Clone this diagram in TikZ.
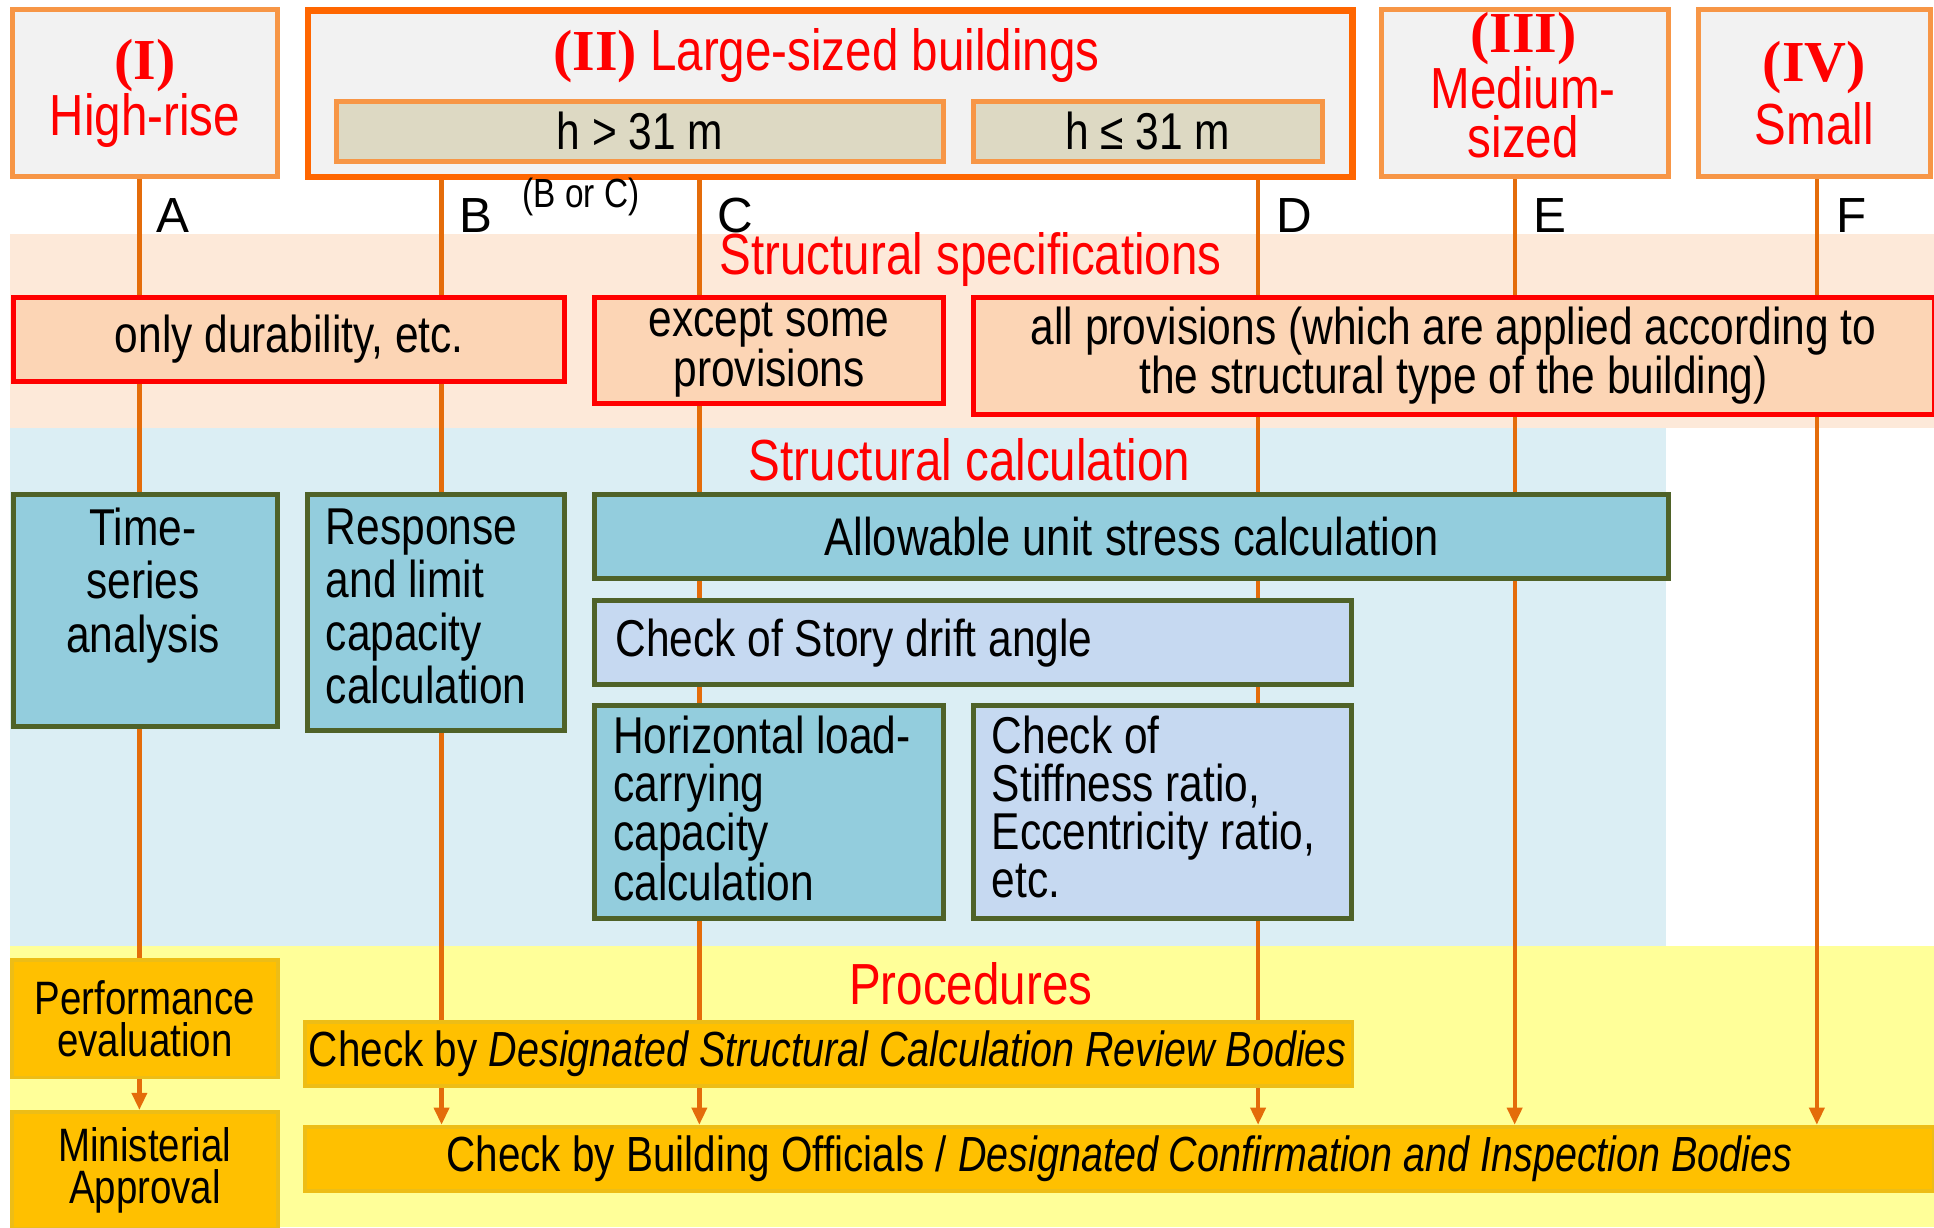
\documentclass[tikz,border=0pt]{standalone}
\usepackage{fontspec}
\setmainfont[FakeStretch=0.82, ItalicFeatures={FakeStretch=0.80}]{Liberation Sans}
\newfontfamily\romfont{Liberation Serif}
\newfontfamily\widefont{Liberation Sans}
\usetikzlibrary{arrows.meta,backgrounds}

\definecolor{catgray}{HTML}{F2F2F2}
\definecolor{lightorange}{HTML}{F79646}
\definecolor{darkorange}{HTML}{FF6600}
\definecolor{linkorange}{HTML}{E46C0A}
\definecolor{tan}{HTML}{DDD9C3}
\definecolor{specbg}{HTML}{FDE9D9}
\definecolor{specfill}{HTML}{FCD5B5}
\definecolor{calcbg}{HTML}{DBEEF4}
\definecolor{calcfill}{HTML}{93CDDD}
\definecolor{lavender}{HTML}{C6D9F1}
\definecolor{olive}{HTML}{4F6228}
\definecolor{procbg}{HTML}{FFFF99}
\definecolor{procfill}{HTML}{FFC000}
\definecolor{procline}{HTML}{EDBD16}

\tikzset{
  txt/.style={font=\fontsize{42pt}{43pt}\selectfont},
  head/.style={text=red, font=\fontsize{47pt}{40pt}\selectfont, align=center},
  lettr/.style={font=\widefont\fontsize{40pt}{40pt}\selectfont},
  catbox/.style={draw=lightorange, line width=4pt, fill=catgray, anchor=north west, inner sep=0pt},
  hbox/.style={draw=lightorange, line width=4pt, fill=tan, anchor=north west, inner sep=0pt, txt},
  specbox/.style={draw=red, line width=4pt, fill=specfill, anchor=north west, inner sep=0pt, txt, align=center},
  calcbox/.style={draw=olive, line width=4pt, fill=calcfill, anchor=north west, inner sep=0pt, txt},
  procbox/.style={draw=procline, line width=3pt, fill=procfill, anchor=north west, inner sep=0pt, font=\fontsize{40pt}{41pt}\selectfont},
  inner/.style={anchor=north west, inner sep=0pt, txt, align=flush left},
  link/.style={draw=linkorange, line width=3.5pt},
  arrow/.style={link, -{Triangle[length=14pt,width=12pt]}}
}

\begin{document}
\begin{tikzpicture}[x=1pt,y=-1pt]
\useasboundingbox (0,0) rectangle (1568,995);

% bands
\begin{scope}[on background layer]
  \fill[specbg] (8,190) rectangle (1568,347);
  \fill[calcbg] (8,347) rectangle (1351,767);
  \fill[procbg] (8,767) rectangle (1568,995);
\end{scope}

% building categories
\node[catbox, minimum width=215pt, minimum height=135pt, head] (hi) at (8,6) {{\romfont\bfseries (I)}\\High-rise};
\node[catbox, draw=darkorange, line width=5pt, minimum width=847pt, minimum height=135pt] (large) at (247,6) {};
\node[head] (largettl) at (670,45) {{\romfont\bfseries (II)} Large-sized buildings};
\node[hbox, minimum width=492pt, minimum height=49pt] (hgt) at (271,80) {h > 31 m};
\node[hbox, minimum width=283pt, minimum height=49pt] (hle) at (787,80) {h ≤ 31 m};
\node[catbox, minimum width=233pt, minimum height=135pt] (med) at (1118,6) {};
\node[head] (medtxt) at (1235,69) {{\romfont\bfseries (III)}\\Medium-\\sized};
\node[catbox, minimum width=188pt, minimum height=135pt, head, font=\fontsize{47pt}{51pt}\selectfont] (sml) at (1375,6) {{\romfont\bfseries (IV)}\\Small};

% routes
\node[lettr] (la) at (140,175) {A};
\node[lettr] (lb) at (386,175) {B};
\node[lettr, font=\fontsize{33pt}{33pt}\selectfont] (lbc) at (471,160) {(B or C)};
\node[lettr] (lc) at (596,175) {C};
\node[lettr] (ld) at (1049,175) {D};
\node[lettr] (le) at (1257,175) {E};
\node[lettr] (lf) at (1501,175) {F};

% structural specifications
\node[head] (spectl) at (787,210) {Structural specifications};
\node[specbox, minimum width=447pt, minimum height=68pt] (dur) at (9,239) {only durability, etc.};
\node[specbox, minimum width=283pt, minimum height=86pt, font=\fontsize{42pt}{35pt}\selectfont] (exc) at (480,239) {except some\\provisions};
\node[specbox, minimum width=779pt, minimum height=95pt, font=\fontsize{42pt}{39pt}\selectfont] (allp) at (787,239) {all provisions (which are applied according to\\the structural type of the building)};

% structural calculation
\node[head] (calctl) at (786,373) {Structural calculation};
\node[calcbox, minimum width=214pt, minimum height=188pt] (tsa) at (9,399) {};
\node[inner, anchor=north, align=center] (tsatxt) at (116,412) {Time-\\series\\analysis};
\node[calcbox, minimum width=209pt, minimum height=191pt] (rlc) at (247,399) {};
\node[inner] (rlctxt) at (264,412) {Response\\and limit\\capacity\\calculation};
\node[calcbox, minimum width=871pt, minimum height=68pt, font=\fontsize{43pt}{43pt}\selectfont] (aus) at (480,399) {Allowable unit stress calculation};
\node[calcbox, fill=lavender, minimum width=614pt, minimum height=68pt, text width=580pt, inner xsep=17pt, align=flush left] (sda) at (480,485) {Check of Story drift angle};
\node[calcbox, minimum width=283pt, minimum height=173pt] (hlc) at (480,570) {};
\node[inner, font=\fontsize{42pt}{39pt}\selectfont] (hlctxt) at (497,580) {Horizontal load-\\carrying\\capacity\\calculation};
\node[calcbox, fill=lavender, minimum width=307pt, minimum height=173pt] (sti) at (787,570) {};
\node[inner, font=\fontsize{42pt}{39pt}\selectfont] (stitxt) at (804,580) {Check of\\Stiffness ratio,\\Eccentricity ratio,\\etc.};

% procedures
\node[head] (proctl) at (787,798) {Procedures};
\node[procbox, minimum width=216pt, minimum height=95pt, align=center, font=\fontsize{38pt}{34pt}\selectfont] (perf) at (8,777) {Performance\\evaluation};
\node[procbox, minimum width=216pt, minimum height=95pt, align=center, font=\fontsize{38pt}{34pt}\selectfont] (mini) at (8,900) {Ministerial\\Approval};
\node[procbox, minimum width=849pt, minimum height=52pt, text width=843pt, inner xsep=3pt, align=flush left] (dscr) at (246,827) {Check by \textit{Designated Structural Calculation Review Bodies}};
\node[procbox, minimum width=1320pt, minimum height=52pt] (bocb) at (246,912) {Check by Building Officials / \textit{Designated Confirmation and Inspection Bodies}};

% connectors
\coordinate (xa) at (113,0);
\coordinate (xb) at (358,0);
\coordinate (xc) at (567,0);
\coordinate (xd) at (1020,0);
\coordinate (xe) at (1228,0);
\coordinate (xf) at (1473,0);
\begin{scope}[on background layer]
  \draw[link] (xa |- hi.south) -- (xa |- perf.north);
  \draw[arrow] (xa |- perf.south) -- (xa |- mini.north);
  \draw[arrow] (xb |- hgt.south) -- (xb |- bocb.north);
  \draw[arrow] (xc |- hgt.south) -- (xc |- bocb.north);
  \draw[arrow] (xd |- hle.south) -- (xd |- bocb.north);
  \draw[arrow] (xe |- med.south) -- (xe |- bocb.north);
  \draw[arrow] (xf |- sml.south) -- (xf |- bocb.north);
\end{scope}
\end{tikzpicture}
\end{document}
